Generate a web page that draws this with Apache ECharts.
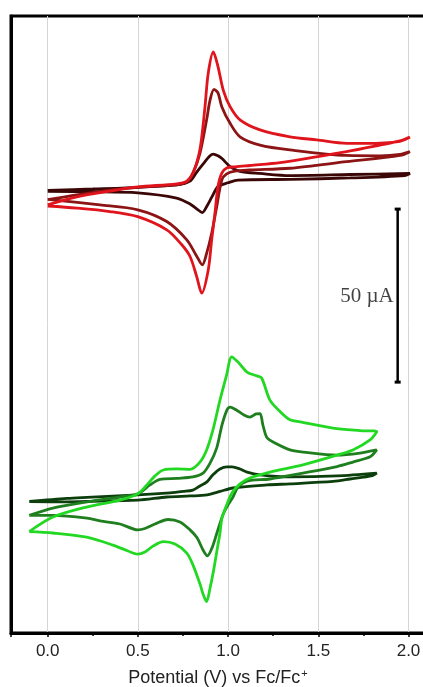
<!DOCTYPE html>
<html>
<head>
<meta charset="utf-8">
<script src="https://cdn.jsdelivr.net/npm/echarts@6/dist/echarts.min.js"></script>
<style>
  html, body { margin: 0; padding: 0; background: #fff; }
  #chart { width: 423px; height: 687px; }
</style>
</head>
<body>
<div id="chart"></div>
<script>
'use strict'

// potential (V vs Fc/Fc+), current (uA, stacked offset)
// red set, top
const redDarkFwd = [[0.00, 127.9], [0.25, 128.3], [0.50, 128.8], [0.715, 129.5], [0.789, 130.6], [0.826, 133.2], [0.861, 135.5], [0.900, 137.9], [0.918, 138.4], [0.944, 137.9], [0.966, 137.1], [1.011, 134.8], [1.066, 133.4], [1.177, 132.8], [1.343, 132.2], [1.676, 132.5], [2.008, 132.8]]
const redDarkRev = [[1.98, 132.2], [1.676, 131.5], [1.343, 131.1], [1.055, 130.9], [0.999, 130.1], [0.944, 129.0], [0.911, 126.1], [0.883, 123.4], [0.857, 121.5], [0.828, 122.5], [0.789, 124.0], [0.715, 125.7], [0.50, 127.2], [0.25, 127.5], [0.00, 127.6]]

const redMidFwd = [[0.00, 125.2], [0.161, 126.6], [0.345, 128.0], [0.499, 128.8], [0.715, 129.5], [0.771, 130.3], [0.805, 132.9], [0.844, 138.6], [0.881, 148.3], [0.900, 154.0], [0.922, 157.1], [0.944, 156.1], [0.965, 152.1], [1.011, 147.3], [1.066, 143.4], [1.177, 141.0], [1.343, 139.6], [1.657, 138.0], [1.842, 137.9], [1.953, 138.3], [2.008, 139.1]]
const redMidRev = [[1.953, 138.0], [1.657, 136.2], [1.343, 134.3], [1.121, 133.8], [1.038, 133.5], [0.992, 132.7], [0.965, 130.9], [0.937, 123.2], [0.909, 115.5], [0.881, 109.7], [0.857, 106.4], [0.826, 108.9], [0.771, 113.6], [0.660, 118.9], [0.499, 122.3], [0.290, 123.7], [0.00, 125.3]]

const redFwd = [[0.00, 123.7], [0.161, 126.0], [0.345, 127.7], [0.499, 128.9], [0.715, 129.8], [0.771, 130.6], [0.805, 132.9], [0.835, 137.6], [0.852, 142.5], [0.872, 152.1], [0.890, 161.8], [0.918, 167.9], [0.944, 163.7], [0.973, 156.9], [1.011, 152.1], [1.066, 148.3], [1.177, 145.4], [1.343, 143.4], [1.491, 142.5], [1.657, 141.5], [1.768, 141.5], [1.953, 142.1], [2.008, 143.3]]
const redRev = [[1.953, 142.2], [1.842, 141.0], [1.657, 139.1], [1.455, 137.3], [1.288, 135.9], [1.121, 135.1], [1.038, 134.7], [0.992, 134.4], [0.965, 132.9], [0.944, 129.0], [0.927, 121.3], [0.909, 113.6], [0.890, 104.9], [0.854, 98.2], [0.826, 103.0], [0.789, 108.8], [0.740, 112.4], [0.660, 116.5], [0.499, 120.3], [0.345, 121.8], [0.161, 122.8], [0.00, 123.4]]

// green set, bottom
const greenDarkFwd = [[-0.102, 38.0], [0.107, 38.9], [0.218, 39.2], [0.499, 39.9], [0.678, 40.5], [0.750, 40.9], [0.805, 41.3], [0.844, 42.5], [0.881, 43.6], [0.916, 45.7], [0.955, 47.4], [0.994, 48.0], [1.022, 48.0], [1.066, 47.4], [1.105, 46.5], [1.177, 45.7], [1.343, 45.1], [1.604, 45.4], [1.824, 46.2]]
const greenDarkRev = [[1.80, 45.5], [1.676, 44.5], [1.582, 43.8], [1.343, 43.1], [1.216, 42.8], [1.027, 41.9], [0.955, 40.9], [0.883, 39.9], [0.789, 39.6], [0.661, 39.3], [0.50, 38.4], [0.218, 38.0], [0.107, 37.9], [-0.102, 38.0]]

const greenMidFwd = [[-0.102, 34.0], [0.029, 36.1], [0.218, 37.9], [0.401, 39.3], [0.499, 40.2], [0.567, 42.8], [0.623, 44.4], [0.717, 44.7], [0.805, 45.1], [0.861, 46.2], [0.900, 49.1], [0.937, 53.5], [0.966, 60.1], [0.994, 64.5], [1.011, 65.3], [1.044, 64.5], [1.088, 63.0], [1.121, 62.4], [1.155, 63.3], [1.177, 63.4], [1.193, 60.1], [1.216, 56.4], [1.260, 54.9], [1.343, 52.9], [1.415, 52.3], [1.604, 51.4], [1.731, 52.0], [1.824, 52.9]]
const greenMidRev = [[1.787, 50.9], [1.692, 49.4], [1.604, 48.1], [1.415, 46.2], [1.232, 44.5], [1.105, 43.9], [1.055, 42.2], [1.027, 39.3], [0.999, 37.0], [0.973, 34.4], [0.938, 28.9], [0.911, 24.6], [0.885, 22.3], [0.861, 24.0], [0.828, 27.5], [0.789, 29.8], [0.733, 32.1], [0.667, 32.8], [0.595, 31.5], [0.539, 30.2], [0.499, 29.8], [0.401, 31.5], [0.290, 32.4], [0.218, 33.2], [0.029, 34.0], [-0.102, 34.0]]

const greenFwd = [[-0.102, 29.3], [0.029, 33.5], [0.216, 36.4], [0.401, 38.4], [0.499, 40.2], [0.550, 42.8], [0.595, 45.4], [0.641, 47.1], [0.717, 47.4], [0.789, 47.3], [0.844, 49.4], [0.881, 52.9], [0.916, 58.7], [0.955, 67.3], [0.992, 74.6], [1.020, 79.8], [1.055, 78.3], [1.105, 75.4], [1.160, 74.3], [1.186, 73.7], [1.232, 67.3], [1.288, 64.0], [1.343, 61.6], [1.399, 61.0], [1.582, 59.2], [1.731, 58.5], [1.824, 58.2]]
const greenRev = [[1.787, 55.8], [1.692, 52.9], [1.604, 51.4], [1.415, 48.6], [1.232, 46.5], [1.121, 44.8], [1.066, 43.1], [1.022, 40.5], [0.992, 37.0], [0.966, 33.2], [0.955, 28.9], [0.937, 23.4], [0.918, 17.6], [0.900, 13.0], [0.881, 9.1], [0.861, 11.3], [0.844, 14.2], [0.805, 19.7], [0.771, 23.1], [0.706, 25.7], [0.641, 26.4], [0.584, 25.1], [0.539, 23.4], [0.499, 22.8], [0.445, 23.7], [0.362, 25.4], [0.216, 27.7], [0.029, 28.9], [-0.102, 29.3]]

// 50 uA scale bar
const scaleBar = [[1.94, 72.5], [1.94, 122.5]]
const scaleLabelAt = [[1.94, 97.3]]
const scaleText = '50 µA'

const xName = 'Potential (V) vs Fc/Fc{sup|+}'

const curves = [
  { name: 'red-1', color: '#3a0606', fwd: redDarkFwd, rev: redDarkRev },
  { name: 'red-2', color: '#8c1414', fwd: redMidFwd, rev: redMidRev },
  { name: 'red-3', color: '#e0141c', fwd: redFwd, rev: redRev },
  { name: 'green-1', color: '#0d3f0d', fwd: greenDarkFwd, rev: greenDarkRev },
  { name: 'green-2', color: '#1f7f1f', fwd: greenMidFwd, rev: greenMidRev },
  { name: 'green-3', color: '#22d822', fwd: greenFwd, rev: greenRev }
]

const chart = echarts.init(document.getElementById('chart'), null, { renderer: 'canvas' })

const series = curves.map(function (c) {
  return {
    name: c.name,
    type: 'line',
    data: c.fwd.concat(c.rev),
    showSymbol: false,
    smooth: 0.3,
    lineStyle: { color: c.color, width: 2.8 },
    silent: true
  }
})

series.push({
  type: 'line',
  data: scaleBar,
  symbol: 'rect',
  symbolSize: [6, 3],
  showSymbol: true,
  itemStyle: { color: '#000' },
  lineStyle: { color: '#000', width: 2.5 },
  silent: true
})
series.push({
  type: 'scatter',
  data: scaleLabelAt,
  symbolSize: 0,
  label: {
    show: true,
    position: 'left',
    distance: 4,
    formatter: scaleText,
    fontFamily: '"Liberation Serif", "Times New Roman", serif',
    fontSize: 21,
    color: '#111'
  },
  silent: true
})

chart.setOption({
  backgroundColor: '#fff',
  animation: false,
  grid: {
    left: 11, top: 16, width: 414, height: 617,
    outerBoundsMode: 'none',
    show: true, borderColor: '#000', borderWidth: 3
  },
  xAxis: {
    type: 'value',
    min: -0.2034,
    max: 2.0915,
    minInterval: 0.5,
    maxInterval: 0.5,
    name: xName,
    nameLocation: 'middle',
    nameGap: 35,
    nameTextStyle: {
      fontFamily: '"Liberation Sans", Arial, sans-serif',
      fontSize: 18,
      color: '#222',
      rich: {
        sup: { fontSize: 11, verticalAlign: 'top', padding: [0, 0, 9, 1], fontFamily: '"Liberation Sans", Arial, sans-serif', color: '#222' }
      }
    },
    axisLine: { onZero: false, lineStyle: { color: '#000', width: 3 } },
    axisTick: { length: 4, lineStyle: { color: '#000', width: 1.5 } },
    minorTick: { show: true, splitNumber: 2, length: 3, lineStyle: { color: '#000', width: 1.5 } },
    axisLabel: {
      showMinLabel: false,
      showMaxLabel: false,
      margin: 10,
      fontFamily: '"Liberation Sans", Arial, sans-serif',
      fontSize: 17,
      color: '#222',
      formatter: function (v) { return v.toFixed(1) }
    },
    splitLine: { show: true, lineStyle: { color: '#d4d4d4', width: 1 } }
  },
  yAxis: {
    type: 'value',
    min: 0,
    max: 178.3,
    axisLine: { show: true, onZero: false, lineStyle: { color: '#000', width: 3 } },
    axisTick: { show: false },
    axisLabel: { show: false },
    splitLine: { show: false }
  },
  series: series
})
</script>
</body>
</html>
